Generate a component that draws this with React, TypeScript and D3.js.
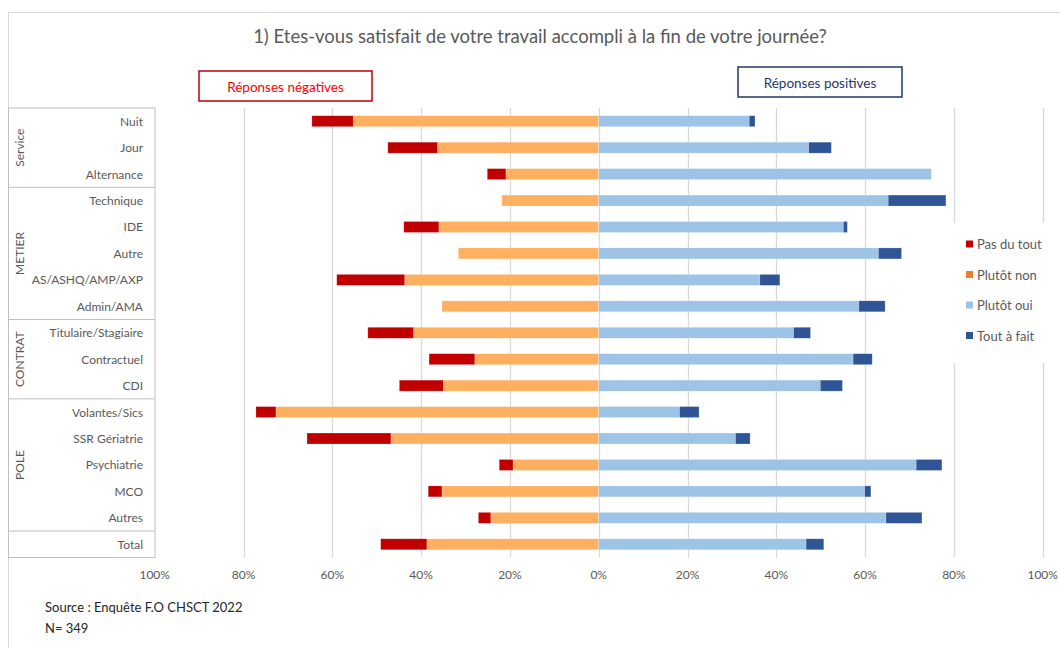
import React, { useEffect, useRef } from 'react'
import * as d3 from 'd3'

// rows, top to bottom
const categories = [
  'Nuit', 'Jour', 'Alternance',
  'Technique', 'IDE', 'Autre', 'AS/ASHQ/AMP/AXP', 'Admin/AMA',
  'Titulaire/Stagiaire', 'Contractuel', 'CDI',
  'Volantes/Sics', 'SSR Gériatrie', 'Psychiatrie', 'MCO', 'Autres',
  'Total'
]

// group label + first/last row of each group
const groupNames = ['Service', 'METIER', 'CONTRAT', 'POLE']
const groupStart = ['Nuit', 'Technique', 'Titulaire/Stagiaire', 'Volantes/Sics']
const groupEnd = ['Alternance', 'Admin/AMA', 'CDI', 'Autres']

// values in %
const pasDuTout = [9.3, 11.2, 4.2, 0, 7.9, 0, 15.3, 0, 10.3, 10.3, 9.9, 4.5, 18.9, 3.1, 3.1, 2.8, 10.4]
const plutotNon = [55.3, 36.3, 20.9, 21.8, 36.0, 31.6, 43.7, 35.3, 41.7, 27.9, 35.0, 72.7, 46.8, 19.3, 35.3, 24.3, 38.7]
const plutotOui = [33.9, 47.3, 74.9, 65.2, 55.1, 63.0, 36.3, 58.6, 43.9, 57.3, 49.9, 18.2, 30.8, 71.5, 59.9, 64.7, 46.7]
const toutAFait = [1.3, 5.1, 0, 13.0, 0.9, 5.2, 4.5, 5.9, 3.8, 4.3, 5.0, 4.4, 3.3, 5.8, 1.4, 8.1, 4.0]

const tickValues = [-100, -80, -60, -40, -20, 0, 20, 40, 60, 80, 100]

const seriesNames = ['Pas du tout', 'Plutôt non', 'Plutôt oui', 'Tout à fait']

export default function App() {
  const ref = useRef<SVGSVGElement>(null)

  useEffect(() => {
    const svg = d3.select(ref.current)
    svg.selectAll('*').remove()

    const font = 'Lato, "Open Sans", sans-serif'
    const grey = '#595959'

    // scales
    const x = d3.scaleLinear().domain([-100, 100]).range([154.7, 1042.7])
    const y = d3.scaleBand<string>()
      .domain(categories)
      .range([108, 557.5])
      .paddingInner(0.585)
      .paddingOuter(0.2925)
    const step = y.step()
    const rowTop = (c: string) => (y(c) as number) - (step - y.bandwidth()) / 2

    // chart frame (top + left visible)
    svg.append('rect')
      .attr('x', 8.5).attr('y', 12.5)
      .attr('width', 1100).attr('height', 700)
      .attr('fill', 'none').attr('stroke', '#d9d9d9')

    // title
    svg.append('text')
      .attr('x', 540).attr('y', 36)
      .attr('text-anchor', 'middle').attr('dominant-baseline', 'central')
      .attr('font-family', font).attr('font-size', 18.5).attr('fill', grey)
      .text('1) Etes-vous satisfait de votre travail accompli à la fin de votre journée?')

    // boxes negative / positive
    svg.append('rect')
      .attr('x', 199).attr('y', 71).attr('width', 173).attr('height', 30)
      .attr('fill', 'white').attr('stroke', '#C00000').attr('stroke-width', 1.5)
    svg.append('text')
      .attr('x', 285.5).attr('y', 86.5)
      .attr('text-anchor', 'middle').attr('dominant-baseline', 'central')
      .attr('font-family', font).attr('font-size', 13.5).attr('fill', '#FF0000')
      .text('Réponses négatives')
    svg.append('rect')
      .attr('x', 738).attr('y', 67).attr('width', 164).attr('height', 30)
      .attr('fill', 'white').attr('stroke', '#1F3864').attr('stroke-width', 1.5)
    svg.append('text')
      .attr('x', 820).attr('y', 82.5)
      .attr('text-anchor', 'middle').attr('dominant-baseline', 'central')
      .attr('font-family', font).attr('font-size', 13.5).attr('fill', '#1F3864')
      .text('Réponses positives')

    // gridlines
    svg.append('g')
      .selectAll('line')
      .data(tickValues.filter(d => d > -100))
      .enter()
      .append('line')
      .attr('x1', d => Math.round(x(d)) + 0.5).attr('x2', d => Math.round(x(d)) + 0.5)
      .attr('y1', 108).attr('y2', 557.5)
      .attr('stroke', '#d9d9d9').attr('stroke-width', 1.3)

    // stacked bars (diverging)
    const rows = categories.map((c, i) => ({
      cat: c,
      plutotNon: -plutotNon[i],
      pasDuTout: -pasDuTout[i],
      plutotOui: plutotOui[i],
      toutAFait: toutAFait[i]
    }))
    const keys = ['plutotNon', 'pasDuTout', 'plutotOui', 'toutAFait']
    const colors: Record<string, string> = {
      pasDuTout: '#C00000',
      plutotNon: '#FFAF60',
      plutotOui: '#9DC3E6',
      toutAFait: '#2F5597'
    }
    const stacked = d3.stack<any>()
      .keys(keys)
      .offset(d3.stackOffsetDiverging)(rows)

    const layers = svg.append('g')
      .selectAll('g')
      .data(stacked)
      .enter()
      .append('g')
      .attr('fill', d => colors[d.key])

    layers.selectAll('rect')
      .data(d => d.filter(p => p[1] - p[0] !== 0))
      .enter()
      .append('rect')
      .attr('x', d => x(Math.min(d[0], d[1])))
      .attr('width', d => Math.abs(x(d[1]) - x(d[0])))
      .attr('y', d => y(d.data.cat) as number)
      .attr('height', y.bandwidth())
      .attr('stroke', 'white').attr('stroke-opacity', 0.35).attr('stroke-width', 0.6)

    // category table
    const table = svg.append('g')
    table.append('rect')
      .attr('x', 8.5).attr('y', 108).attr('width', 146.5).attr('height', 449.5)
      .attr('fill', 'none').attr('stroke', '#bfbfbf')
    groupStart.slice(1).concat(['Total']).forEach(c => {
      table.append('line')
        .attr('x1', 8.5).attr('x2', 155)
        .attr('y1', rowTop(c)).attr('y2', rowTop(c))
        .attr('stroke', '#bfbfbf')
    })

    table.selectAll('text.cat')
      .data(categories)
      .enter()
      .append('text')
      .attr('class', 'cat')
      .attr('x', 143)
      .attr('y', d => (y(d) as number) + y.bandwidth() / 2)
      .attr('text-anchor', 'end').attr('dominant-baseline', 'central')
      .attr('font-family', font).attr('font-size', 12).attr('fill', grey)
      .text(d => d)

    groupNames.forEach((g, i) => {
      const top = rowTop(groupStart[i])
      const bottom = rowTop(groupEnd[i]) + step
      const cy = (top + bottom) / 2
      table.append('text')
        .attr('transform', `translate(19, ${cy}) rotate(-90)`)
        .attr('text-anchor', 'middle').attr('dominant-baseline', 'central')
        .attr('font-family', font).attr('font-size', 12).attr('fill', grey)
        .text(g)
    })

    // x axis labels
    svg.append('g')
      .selectAll('text')
      .data(tickValues)
      .enter()
      .append('text')
      .attr('x', d => x(d))
      .attr('y', 574)
      .attr('text-anchor', 'middle').attr('dominant-baseline', 'central')
      .attr('font-family', font).attr('font-size', 12).attr('fill', grey)
      .text(d => `${Math.abs(d)}%`)

    // legend
    const legendColors = ['#C00000', '#ED7D31', '#9DC3E6', '#2F5597']
    const legend = svg.append('g')
    legend.append('rect')
      .attr('x', 946).attr('y', 223).attr('width', 114).attr('height', 140)
      .attr('fill', 'white')
    seriesNames.forEach((s, i) => {
      const ly = 244 + i * 30.5
      legend.append('rect')
        .attr('x', 966).attr('y', ly - 3.5).attr('width', 7).attr('height', 7)
        .attr('fill', legendColors[i])
      legend.append('text')
        .attr('x', 977).attr('y', ly)
        .attr('dominant-baseline', 'central')
        .attr('font-family', font).attr('font-size', 13).attr('fill', grey)
        .text(s)
    })

    // source
    svg.append('text')
      .attr('x', 45).attr('y', 607)
      .attr('dominant-baseline', 'central')
      .attr('font-family', font).attr('font-size', 13).attr('fill', '#262626')
      .text('Source : Enquête F.O CHSCT 2022')
    svg.append('text')
      .attr('x', 45).attr('y', 628)
      .attr('dominant-baseline', 'central')
      .attr('font-family', font).attr('font-size', 13).attr('fill', '#262626')
      .text('N= 349')
  }, [])

  return (
    <svg
      ref={ref}
      width={1060}
      height={648}
      style={{ position: 'absolute', left: 0, top: 0, background: 'white' }}
    />
  )
}
